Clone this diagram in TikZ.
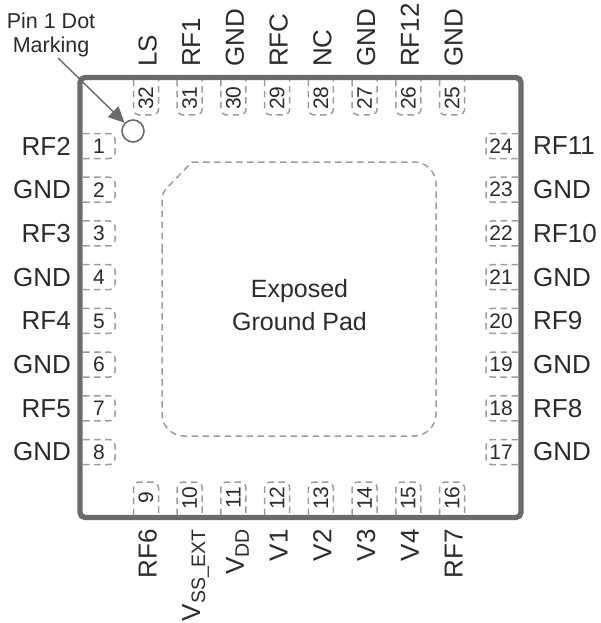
\documentclass[tikz,border=0pt]{standalone}
\usepackage{fontspec}
\setmainfont{Liberation Sans}
\usetikzlibrary{arrows.meta}
\definecolor{txt}{HTML}{2B2B2B}
\definecolor{pkg}{HTML}{6A6B6D}
\definecolor{dash}{HTML}{9C9D9F}
\newcommand{\lowtxt}[1]{\raisebox{-5pt}{\fontsize{19.5}{19.5}\selectfont #1}}
\tikzset{
  pinlabel/.style={text=txt,inner sep=0pt,font=\fontsize{26}{26}\selectfont},
  pinnum/.style={text=txt,inner sep=0pt,font=\fontsize{21}{21}\selectfont},
  padline/.style={draw=dash,line width=1.5pt,dash pattern=on 6.5pt off 4.5pt,rounded corners=6pt},
  notelabel/.style={text=txt,inner sep=0pt,align=center,font=\fontsize{21.5}{23.5}\selectfont},
  centerlabel/.style={text=txt,inner sep=0pt,align=center,font=\fontsize{25}{33}\selectfont},
}
\begin{document}
\begin{tikzpicture}[x=1pt,y=-1pt]
\useasboundingbox (0,0) rectangle (600,623);
% package body
\draw[pkg,line width=5.3pt,rounded corners=5pt] (80,77.5) rectangle (521,517.5);
% exposed pad
\draw[padline,rounded corners=22pt] (192,162) -- (436,162) -- (436,436) -- (162,436) -- (162,250);
\draw[padline] (162,250) -- (162,193) -- (192,162);
\node[centerlabel] (pad) at (299.5,305) {Exposed\\Ground Pad};
% left pins
\foreach \n/\lab [count=\i from 0] in {1/RF2,2/GND,3/RF3,4/GND,5/RF4,6/GND,7/RF5,8/GND}{
  \pgfmathsetmacro{\c}{146+43.72*\i}
  \draw[padline] (83,\c-12.5) -- (115,\c-12.5) -- (115,\c+12.5) -- (83,\c+12.5);
  \node[pinnum] (p\n) at (99,\c) {\n};
  \node[pinlabel,anchor=east] (l\n) at (71,\c) {\lab};
}
% right pins
\foreach \n/\lab [count=\i from 0] in {24/RF11,23/GND,22/RF10,21/GND,20/RF9,19/GND,18/RF8,17/GND}{
  \pgfmathsetmacro{\c}{146+43.72*\i}
  \draw[padline] (518,\c-12.5) -- (486,\c-12.5) -- (486,\c+12.5) -- (518,\c+12.5);
  \node[pinnum] (p\n) at (501,\c) {\n};
  \node[pinlabel,anchor=west] (l\n) at (533,\c) {\lab};
}
% top pins
\foreach \n/\lab [count=\i from 0] in {32/LS,31/RF1,30/GND,29/RFC,28/NC,27/GND,26/RF12,25/GND}{
  \pgfmathsetmacro{\c}{146+43.72*\i}
  \draw[padline] (\c-12.5,80) -- (\c-12.5,115) -- (\c+12.5,115) -- (\c+12.5,80);
  \node[pinnum,rotate=90] (p\n) at (\c,98) {\n};
  \node[pinlabel,rotate=90,anchor=base west] (l\n) at (\c+10.5,67) {\lab};
}
% bottom pins
\foreach \n/\lab [count=\i from 0] in {9/RF6,10/{V\lowtxt{SS\_EXT}},11/{V\lowtxt{DD}},12/V1,13/V2,14/V3,15/V4,16/RF7}{
  \pgfmathsetmacro{\c}{146+43.72*\i}
  \draw[padline] (\c-12.5,515) -- (\c-12.5,482) -- (\c+12.5,482) -- (\c+12.5,515);
  \node[pinnum,rotate=90] (p\n) at (\c,498) {\n};
  \node[pinlabel,rotate=90,anchor=base east] (l\n) at (\c+10.5,529) {\lab};
}
% pin 1 marking
\node[draw=pkg,line width=1.6pt,circle,minimum size=22pt,inner sep=0pt] (dot) at (133,131) {};
\node[notelabel] (note) at (51,35) {Pin 1 Dot\\Marking};
\coordinate (notefoot) at (58,58);
\draw[pkg,line width=1.4pt,-{Triangle[length=16pt,width=15pt]}] (notefoot) -- (dot);
\end{tikzpicture}
\end{document}
